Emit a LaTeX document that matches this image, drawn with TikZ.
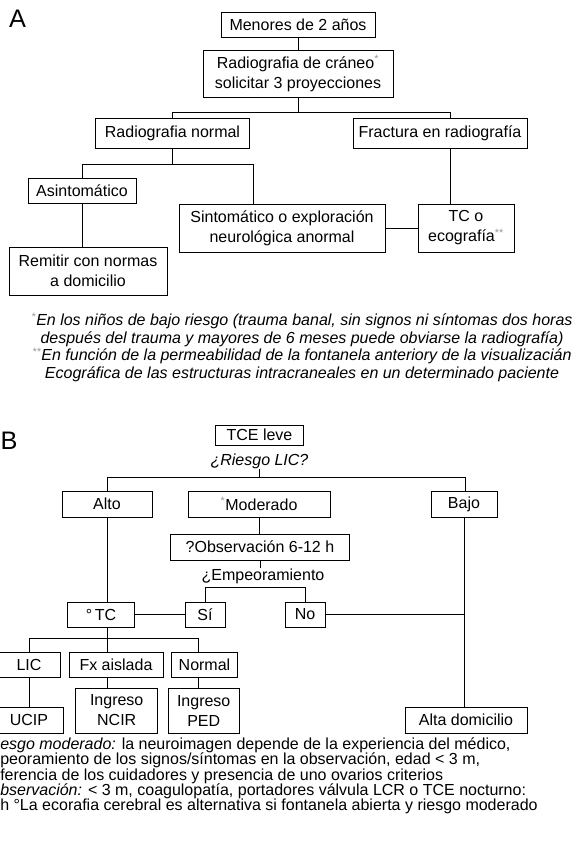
\documentclass[tikz,border=0pt]{standalone}
\usepackage{fontspec}
\setmainfont{Liberation Sans}
\usetikzlibrary{calc}
\definecolor{astgray}{RGB}{150,150,150}
\newcommand{\myast}{\textsuperscript{\color{astgray}*}}
\newcommand{\myastast}{\textsuperscript{\color{astgray}**}}
\begin{document}
\begin{tikzpicture}[x=0.75pt,y=-0.75pt,
  box/.style={draw=black, line width=0.7pt, inner sep=0pt, align=center,
    font=\fontsize{12}{15}\selectfont},
  sz/.style 2 args={minimum width=#1*0.75pt, minimum height=#2*0.75pt},
  conn/.style={draw=black, line width=0.7pt},
  plain/.style={inner sep=0pt, font=\fontsize{12}{15}\selectfont},
  notetext/.style={inner sep=0pt, font=\fontsize{12}{14}\selectfont\itshape},
  bottomtext/.style={inner sep=0pt, anchor=west, font=\fontsize{12}{14}\selectfont},
  biglabel/.style={inner sep=0pt, font=\fontsize{19}{22}\selectfont}]
\useasboundingbox (0,0) rectangle (583,841);

% ---------------- Part A ----------------
\node[biglabel] (labA) at (17.5,19) {A};
\node[box, sz={154}{25}] (menores) at (298,24.5) {Menores de 2 años};
\node[box, sz={190}{47}] (rxcraneo) at (298,73.5)
  {Radiografia de cráneo\myast\\solicitar 3 proyecciones};
\node[box, sz={154}{30}] (radnorm) at (172.5,133) {Radiografia normal};
\node[box, sz={174}{30}] (fractura) at (440,133) {Fractura en radiografía};
\node[box, sz={108}{25}] (asint) at (82,190.5) {Asintomático};
\node[box, sz={206}{48}] (sint) at (282,228)
  {Sintomático o exploración\\neurológica anormal};
\node[box, sz={96}{48}] (tceco) at (466,228) {TC o\\ecografía\myastast};
\node[box, sz={158}{48}] (remitir) at (88,271)
  {Remitir con normas\\a domicilio};

\coordinate (jA) at (450,112);
\coordinate (jB) at (253.5,164);
\draw[conn] (menores.south) -- (rxcraneo.north);
\draw[conn] (rxcraneo.south) -- (rxcraneo.south |- jA);
\draw[conn] (radnorm.north) |- (jA) -- (jA |- fractura.north);
\draw[conn] (radnorm.south) -- (radnorm.south |- jB);
\draw[conn] (asint.north) |- (jB) -- (jB |- sint.north);
\draw[conn] (asint.south) -- (asint.south |- remitir.north);
\draw[conn] (jA |- fractura.south) -- (jA |- tceco.north);
\draw[conn] (sint.east) -- (tceco.west);

% notes A
\node[notetext] (n1) at (302,321) {\myast En los niños de bajo riesgo (trauma banal, sin signos ni síntomas dos horas};
\node[notetext] (n2) at (302,339) {después del trauma y mayores de 6 meses puede obviarse la radiografía)};
\node[notetext] (n3) at (302,356) {\myastast En función de la permeabilidad de la fontanela anteriory de la visualizacián};
\node[notetext] (n4) at (302,374) {Ecográfica de las estructuras intracraneales en un determinado paciente};

% ---------------- Part B ----------------
\node[biglabel] (labB) at (9,441) {B};
\node[box, sz={88}{20}] (tce) at (259.5,435) {TCE leve};
\node[plain, font=\fontsize{12}{15}\selectfont\itshape] (riesgo) at (259.5,461) {¿Riesgo LIC?};
\coordinate (jC) at (465,477);
\node[box, sz={90}{26}] (alto) at (107,504) {Alto};
\node[box, sz={142}{26}] (moder) at (259,504) {\myast Moderado};
\node[box, sz={66}{26}] (bajo) at (464,504) {Bajo};
\draw[conn] (riesgo.south) -- (riesgo.south |- jC);
\draw[conn] (alto.north) |- (jC) -- (jC |- bajo.north);

\node[box, sz={179}{26}] (obs) at (260,547) {?Observación 6-12 h};
\draw[conn] (moder.south) -- (moder.south |- obs.north);
\node[plain] (empeor) at (263,576) {¿Empeoramiento};
\draw[conn] (obs.south) -- (obs.south |- empeor.north);

\coordinate (jD) at (305,587);
\node[box, sz={40}{25}] (si) at (205,614.5) {Sí};
\node[box, sz={40}{25}] (no) at (305,614.5) {No};
\draw[conn] (si.north) |- (jD) -- (jD |- no.north);

\node[box, sz={67}{25}] (tc) at (101,614.5) {°\,TC};
\draw[conn] (alto.south) -- (alto.south |- tc.north);
\draw[conn] (tc.east) -- (si.west);
\draw[conn] (no.east) -- (no.east -| bajo.south);

\node[box, sz={122}{26}] (alta) at (466,720) {Alta domicilio};
\draw[conn] (bajo.south) -- (bajo.south |- alta.north);

\coordinate (jE) at (198.5,638);
\node[box, sz={62}{25}] (lic) at (29,664.5) {LIC};
\node[box, sz={94}{25}] (fx) at (116,664.5) {Fx aislada};
\node[box, sz={66}{25}] (normal) at (204.5,664.5) {Normal};
\draw[conn] (alto.south |- tc.south) -- (alto.south |- jE);
\draw[conn] (lic.north) |- (jE) -- (jE |- normal.north);
\draw[conn] (alto.south |- jE) -- (alto.south |- fx.north);

\node[box, sz={68}{26}] (ucip) at (29,720) {UCIP};
\node[box, sz={82}{45}] (ncir) at (116.7,710.5) {Ingreso\\NCIR};
\node[box, sz={71}{45}] (ped) at (203.7,710.5) {Ingreso\\PED};
\draw[conn] (lic.south) -- (lic.south |- ucip.north);
\draw[conn] (alto.south |- fx.south) -- (alto.south |- ncir.north);
\draw[conn] (jE |- normal.south) -- (jE |- ped.north);

% bottom notes
\node[bottomtext] (b1) at (0,745) {\textit{esgo moderado:} la neuroimagen depende de la experiencia del médico,};
\node[bottomtext] (b2) at (0,760.5) {peoramiento de los signos/síntomas en la observación, edad < 3 m,};
\node[bottomtext] (b3) at (0,776) {ferencia de los cuidadores y presencia de uno ovarios criterios};
\node[bottomtext] (b4) at (0,791) {\textit{bservación:} < 3 m, coagulopatía, portadores válvula LCR o TCE nocturno:};
\node[bottomtext] (b5) at (0,806) {h °La ecorafia cerebral es alternativa si fontanela abierta y riesgo moderado};
\end{tikzpicture}
\end{document}
